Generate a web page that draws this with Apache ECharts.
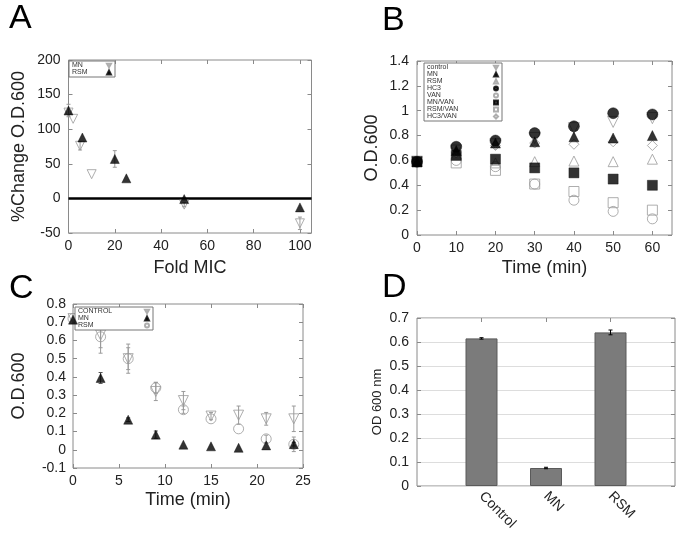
<!DOCTYPE html>
<html><head><meta charset="utf-8">
<script src="https://cdn.jsdelivr.net/npm/echarts@6.0.0/dist/echarts.min.js"></script>
<style>html,body{margin:0;padding:0;background:#fff}#c{width:685px;height:536px}</style>
</head><body><div id="c"></div>
<script>
// ---------- Panel A : %Change O.D.600 vs Fold MIC ----------
const aMN_x = [0, 2, 5, 10, 50, 100];
const aMN_y = [124, 115, 76, 35, -9, -36];
const aMN_err = [0, 0, 6, 0, 3, 9];
const aRSM_x = [0, 6, 20, 25, 50, 100];
const aRSM_y = [127, 88, 57, 29, -1, -13];
const aRSM_err = [9, 0, 12, 0, 0, 0];
// ---------- Panel B : O.D.600 vs Time ----------
const bTime = [0, 10, 20, 30, 40, 50, 60];
const bControl = [0.59, 0.68, 0.73, 0.78, 0.86, 0.91, 0.94];
const bMN = [0.59, 0.68, 0.74, 0.75, 0.79, 0.78, 0.80];
const bRSM = [0.59, 0.65, 0.58, 0.59, 0.595, 0.59, 0.61];
const bHC3 = [0.59, 0.71, 0.76, 0.82, 0.875, 0.98, 0.97];
const bVAN = [0.59, 0.60, 0.55, 0.41, 0.28, 0.19, 0.13];
const bMNVAN = [0.59, 0.64, 0.61, 0.54, 0.50, 0.45, 0.40];
const bRSMVAN = [0.59, 0.58, 0.52, 0.41, 0.35, 0.26, 0.20];
const bHC3VAN = [0.59, 0.66, 0.72, 0.74, 0.73, 0.75, 0.72];
// ---------- Panel C : O.D.600 vs Time ----------
const cTime = [0, 3, 6, 9, 12, 15, 18, 21, 24];
const cControl = [0.72, 0.63, 0.50, 0.32, 0.27, 0.185, 0.19, 0.17, 0.17];
const cControlErr = [0, 0.10, 0.08, 0.05, 0.05, 0.02, 0.05, 0.035, 0.07];
const cMN = [0.714, 0.394, 0.165, 0.083, 0.028, 0.019, 0.011, 0.024, 0.031];
const cMNErr = [0, 0.03, 0.01, 0.02, 0, 0, 0, 0, 0.01];
const cRSM = [0.72, 0.62, 0.50, 0.34, 0.22, 0.17, 0.115, 0.06, 0.03];
const cRSMErr = [0, 0.06, 0.06, 0.03, 0.02, 0, 0, 0.02, 0.04];
// ---------- Panel D : OD 600 nm bars ----------
const dCategories = ['Control', 'MN', 'RSM'];
const dValues = [0.615, 0.075, 0.64];
const dErr = [0.003, 0.003, 0.01];

const FONT = "'Liberation Sans', Arial, Helvetica, sans-serif";
const FRAME = '#8a8a8a';
const GRAY = '#9a9a9a';
const OPEN = 'rgba(255,255,255,0)';
const DOWN = 'path://M0,0L10,0L5,9Z';

const zip = (xs, ys) => xs.map((x, i) => [x, ys[i]]);
const errData = (xs, ys, es) => xs.map((x, i) => [x, ys[i] - es[i], ys[i] + es[i]]).filter((d, i) => es[i] > 0);

function errSeries(xi, yi, data, color) {
  return {
    type: 'custom', xAxisIndex: xi, yAxisIndex: yi, silent: true, z: 1,
    data: data,
    renderItem: function (params, api) {
      const x = api.value(0), lo = api.value(1), hi = api.value(2);
      const p1 = api.coord([x, lo]), p2 = api.coord([x, hi]);
      const w = 2;
      const st = { stroke: color, lineWidth: 1 };
      return { type: 'group', children: [
        { type: 'line', shape: { x1: p1[0], y1: p1[1], x2: p2[0], y2: p2[1] }, style: st },
        { type: 'line', shape: { x1: p1[0] - w, y1: p1[1], x2: p1[0] + w, y2: p1[1] }, style: st },
        { type: 'line', shape: { x1: p2[0] - w, y1: p2[1], x2: p2[0] + w, y2: p2[1] }, style: st }
      ] };
    }
  };
}

function sc(name, xi, yi, data, symbol, size, filled, rotate) {
  return {
    name: name, type: 'scatter', xAxisIndex: xi, yAxisIndex: yi, data: data,
    symbol: symbol, symbolSize: size, symbolRotate: rotate || 0, z: filled ? 4 : 3,
    itemStyle: filled ? { color: '#000', borderColor: '#000', borderWidth: 0.5 }
                      : { color: OPEN, borderColor: GRAY, borderWidth: 1 }
  };
}

const labelStyle = { fontFamily: FONT, fontSize: 14, color: '#222' };
const nameStyle = { fontFamily: FONT, fontSize: 18, color: '#222' };

function valAxis(gi, pos, min, max, interval, name, nameGap, showLabel, extra) {
  const ax = {
    type: 'value', gridIndex: gi, position: pos, min: min, max: max, interval: interval,
    axisLine: { show: false, onZero: false }, splitLine: { show: false },
    axisTick: { show: true, inside: true, length: 4, lineStyle: { color: FRAME } },
    axisLabel: Object.assign({ show: showLabel, margin: 8, showMaxLabel: true }, labelStyle)
  };
  if (name) {
    ax.name = name; ax.nameLocation = 'middle'; ax.nameGap = nameGap; ax.nameTextStyle = nameStyle;
  }
  return Object.assign(ax, extra || {});
}

function legend(left, top, names, textW) {
  return {
    left: left, top: top, orient: 'vertical', align: 'right',
    padding: [1, 3, 1, 3], itemGap: 0, itemWidth: 4, itemHeight: 4,
    borderColor: '#777', borderWidth: 1, backgroundColor: '#fff',
    selectedMode: false,
    textStyle: { fontFamily: FONT, fontSize: 7, color: '#333', rich: { t: { width: textW, align: 'left', fontSize: 7, fontFamily: FONT, color: '#333' } } },
    formatter: n => '{t|' + n.split('|')[1] + '}',
    data: names.map(n => (typeof n === 'string' ? { name: n } : n))
  };
}

const dAxisCats = [''].concat(dCategories).concat([' ']);

const option = {
  backgroundColor: '#fff',
  animation: false,
  grid: [
    { left: 68.5, top: 60, width: 243, height: 173, show: true, borderColor: FRAME, borderWidth: 1, backgroundColor: 'transparent', outerBoundsMode: 'none' },
    { left: 417, top: 61, width: 255, height: 174, show: true, borderColor: FRAME, borderWidth: 1, backgroundColor: 'transparent', outerBoundsMode: 'none' },
    { left: 73, top: 304, width: 230, height: 164, show: true, borderColor: FRAME, borderWidth: 1, backgroundColor: 'transparent', outerBoundsMode: 'none' },
    { left: 417, top: 318, width: 258, height: 168, show: true, borderColor: FRAME, borderWidth: 1, backgroundColor: 'transparent', outerBoundsMode: 'none' }
  ],
  xAxis: [
    valAxis(0, 'bottom', 0, 105, 20, 'Fold MIC', 26, true, { axisLabel: Object.assign({ show: true, margin: 6, showMaxLabel: false }, labelStyle) }),
    valAxis(1, 'bottom', 0, 65, 10, 'Time (min)', 24, true, { axisLabel: Object.assign({ show: true, margin: 6, showMaxLabel: false }, labelStyle) }),
    valAxis(2, 'bottom', 0, 25, 5, 'Time (min)', 23, true, { axisLabel: Object.assign({ show: true, margin: 6 }, labelStyle) }),
    { type: 'category', gridIndex: 3, position: 'bottom', data: dAxisCats, boundaryGap: false,
      axisLine: { show: false, onZero: false }, splitLine: { show: false },
      axisTick: { show: true, inside: true, length: 4, interval: (i) => i > 0 && i < dAxisCats.length - 1, lineStyle: { color: FRAME } },
      axisLabel: Object.assign({ rotate: -45, margin: 8, interval: 0 }, labelStyle) },
    valAxis(0, 'top', 0, 105, 20, null, 0, false),
    valAxis(1, 'top', 0, 65, 10, null, 0, false),
    valAxis(2, 'top', 0, 25, 5, null, 0, false),
    { type: 'category', gridIndex: 3, position: 'top', data: dAxisCats, boundaryGap: false,
      axisLine: { show: false, onZero: false }, splitLine: { show: false },
      axisTick: { show: true, inside: true, length: 4, interval: (i) => i > 0 && i < dAxisCats.length - 1, lineStyle: { color: FRAME } },
      axisLabel: { show: false } }
  ],
  yAxis: [
    valAxis(0, 'left', -50, 200, 50, '%Change O.D.600', 40, true),
    valAxis(1, 'left', 0, 1.4, 0.2, 'O.D.600', 36, true),
    valAxis(2, 'left', -0.1, 0.8, 0.1, 'O.D.600', 45, true, { axisLabel: Object.assign({ show: true, margin: 7 }, labelStyle) }),
    valAxis(3, 'left', 0, 0.7, 0.1, 'OD 600 nm', 33, true, {
      nameTextStyle: { fontFamily: FONT, fontSize: 13, color: '#222' },
      splitLine: { show: true, lineStyle: { color: '#dddddd', width: 1 } } }),
    valAxis(0, 'right', -50, 200, 50, null, 0, false),
    valAxis(1, 'right', 0, 1.4, 0.2, null, 0, false),
    valAxis(2, 'right', -0.1, 0.8, 0.1, null, 0, false),
    valAxis(3, 'right', 0, 0.7, 0.1, null, 0, false)
  ],
  legend: [
    legend(69, 61, [{ name: 'A|MN', icon: DOWN }, 'A|RSM'], 30),
    legend(424, 63, [{ name: 'B|control', icon: DOWN }, 'B|MN', 'B|RSM', 'B|HC3', 'B|VAN', 'B|MN/VAN', 'B|RSM/VAN', 'B|HC3/VAN'], 62),
    legend(75, 307, [{ name: 'C|CONTROL', icon: DOWN }, 'C|MN', 'C|RSM'], 62)
  ],
  graphic: [
    { type: 'text', left: 9, top: 2, style: { text: 'A', fontSize: 34, fontFamily: FONT, fill: '#000' } },
    { type: 'text', left: 382, top: 4, style: { text: 'B', fontSize: 34, fontFamily: FONT, fill: '#000' } },
    { type: 'text', left: 9, top: 272, style: { text: 'C', fontSize: 34, fontFamily: FONT, fill: '#000' } },
    { type: 'text', left: 382, top: 271, style: { text: 'D', fontSize: 34, fontFamily: FONT, fill: '#000' } }
  ],
  series: [
    // Panel A
    errSeries(0, 0, errData(aMN_x, aMN_y, aMN_err), GRAY),
    errSeries(0, 0, errData(aRSM_x, aRSM_y, aRSM_err), GRAY),
    sc('A|MN', 0, 0, zip(aMN_x, aMN_y), 'triangle', 9, false, 180),
    Object.assign(sc('A|RSM', 0, 0, zip(aRSM_x, aRSM_y), 'triangle', 9, true), {
      markLine: { silent: true, symbol: ['none', 'none'], label: { show: false }, z: 3,
        lineStyle: { color: '#000', width: 2.5, type: 'solid' }, data: [{ yAxis: 0 }] }
    }),
    // Panel B
    sc('B|control', 1, 1, zip(bTime, bControl), 'triangle', 11, false, 180),
    sc('B|RSM', 1, 1, zip(bTime, bRSM), 'triangle', 10, false),
    sc('B|VAN', 1, 1, zip(bTime, bVAN), 'circle', 10, false),
    sc('B|RSM/VAN', 1, 1, zip(bTime, bRSMVAN), 'rect', 10, false),
    sc('B|HC3/VAN', 1, 1, zip(bTime, bHC3VAN), 'diamond', 10, false),
    sc('B|MN', 1, 1, zip(bTime, bMN), 'triangle', 10, true),
    sc('B|HC3', 1, 1, zip(bTime, bHC3), 'circle', 11, true),
    sc('B|MN/VAN', 1, 1, zip(bTime, bMNVAN), 'rect', 10, true),
    // Panel C
    errSeries(2, 2, errData(cTime, cControl, cControlErr), GRAY),
    errSeries(2, 2, errData(cTime, cRSM, cRSMErr), GRAY),
    errSeries(2, 2, errData(cTime, cMN, cMNErr), '#555'),
    sc('C|CONTROL', 2, 2, zip(cTime, cControl), 'triangle', 10, false, 180),
    sc('C|RSM', 2, 2, zip(cTime, cRSM), 'circle', 10, false),
    sc('C|MN', 2, 2, zip(cTime, cMN), 'triangle', 9, true),
    // Panel D
    { name: 'D|OD', type: 'bar', xAxisIndex: 3, yAxisIndex: 3, barWidth: 32, z: 2,
      data: dValues.map((v, i) => [i + 1, v]),
      itemStyle: { color: '#7b7b7b', borderColor: '#5a5a5a', borderWidth: 1 } },
    Object.assign(errSeries(3, 3, dValues.map((v, i) => [i + 1, v - dErr[i], v + dErr[i]]), '#000'), { z: 5 })
  ]
};

const chart = echarts.init(document.getElementById('c'), null, { renderer: 'canvas' });
chart.setOption(option);
</script>
</body></html>
